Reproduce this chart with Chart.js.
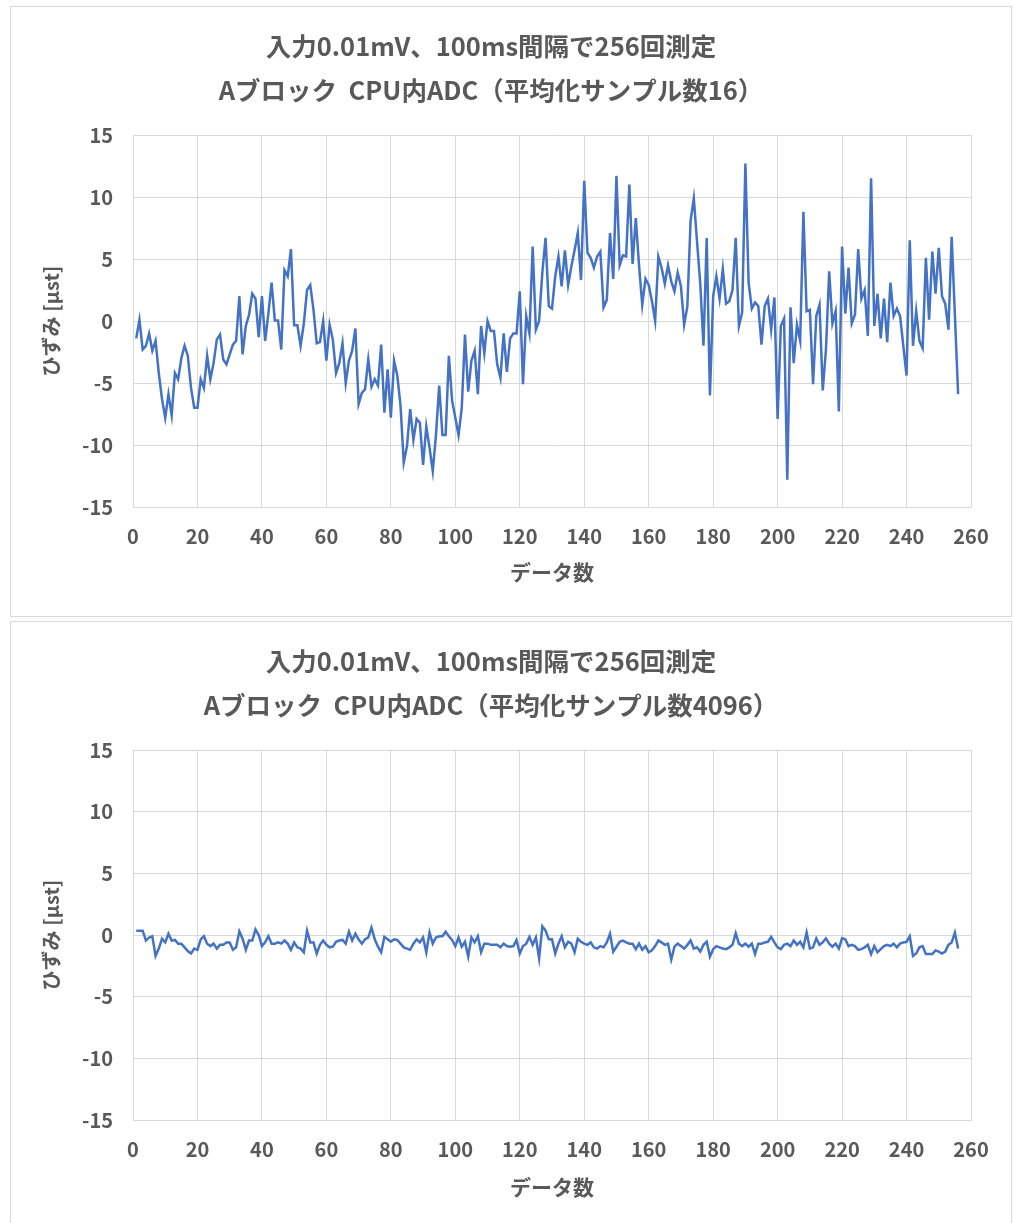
<!DOCTYPE html>
<html>
<head>
<meta charset="utf-8">
<script src="https://cdn.jsdelivr.net/npm/chart.js@4.4.1/dist/chart.umd.min.js"></script>
<style>
  body { margin: 0; background: #fff; }
  .panel { position: absolute; left: 10px; width: 1000px; border: 1px solid #d9d9d9; background: #fff; }
  canvas { position: absolute; left: 0; top: 0; }
</style>
</head>
<body>
<div class="panel" style="top:6px;height:609px;"><canvas id="chart1" width="1000" height="609"></canvas></div>
<div class="panel" style="top:621px;height:610px;"><canvas id="chart2" width="1000" height="602"></canvas></div>
<script>
// ひずみ [μst], 平均化サンプル数16
const strain16 = [
  -1.4, 0.1, -2.3, -2.0, -1.0, -2.4, -1.6, -4.2, -6.3, -7.8,
  -5.9, -7.6, -4.2, -4.7, -3.0, -2.0, -2.8, -5.4, -7.0, -7.0,
  -4.7, -5.4, -2.8, -4.7, -3.4, -1.5, -1.1, -3.1, -3.5, -2.7,
  -1.9, -1.6, 2.0, -2.7, -0.4, 0.5, 2.2, 1.8, -1.3, 2.0,
  -1.6, 0.6, 3.1, 0.05, 0.05, -2.3, 4.1, 3.6, 5.8, -0.35,
  -0.35, -2.0, -0.2, 2.5, 2.9, 0.9, -1.8, -1.7, 0.0, -3.2,
  -0.3, -1.5, -4.2, -3.4, -1.8, -5.0, -3.2, -2.4, -0.6, -6.7,
  -5.8, -5.5, -3.1, -5.3, -4.7, -5.2, -1.9, -7.4, -3.9, -7.8,
  -3.2, -4.4, -6.8, -11.4, -10.1, -7.1, -9.6, -7.9, -8.2, -11.6,
  -8.5, -10.2, -12.1, -9.2, -5.2, -9.2, -9.2, -2.8, -6.4, -7.8,
  -9.2, -7.0, -1.1, -5.7, -3.2, -2.4, -5.9, -0.4, -2.6, 0.0,
  -0.8, -0.8, -3.5, -4.6, -1.0, -4.1, -1.4, -1.0, -1.0, 2.4,
  -5.1, 0.4, -1.0, 6.0, -0.7, 0.0, 3.9, 6.7, 1.2, 1.0,
  3.6, 5.2, 2.8, 5.7, 2.9, 4.4, 5.7, 7.1, 3.3, 11.3,
  5.5, 5.1, 4.3, 5.2, 5.6, 1.1, 1.7, 7.1, 3.4, 11.7,
  4.5, 5.3, 5.2, 11.0, 4.6, 8.3, 4.5, 1.3, 3.4, 2.9,
  1.6, 0.0, 5.2, 4.3, 3.0, 4.5, 3.2, 2.4, 3.9, 2.8,
  -0.3, 1.2, 8.1, 9.9, 6.4, 3.0, -2.0, 6.7, -6.0, 2.0,
  3.6, 1.8, 4.2, 1.4, 1.6, 2.5, 6.7, -0.4, 0.7, 12.7,
  3.1, 1.0, 1.5, 1.2, -1.9, 1.2, 1.8, -0.7, 1.9, -7.9,
  -0.4, 0.2, -12.8, 1.1, -3.4, -0.3, -1.6, 8.8, 0.8, 0.9,
  -5.1, 0.4, 1.3, -5.6, -2.3, 4.0, -0.2, 0.8, -7.3, 6.0,
  0.6, 4.3, -0.2, 0.5, 5.8, 1.8, 2.5, -1.2, 11.5, -0.4,
  2.2, -1.4, 1.8, -1.7, 3.1, 0.4, 1.0, 0.4, -2.0, -4.4,
  6.5, -2.0, 0.8, -1.6, -2.2, 5.1, 0.1, 5.6, 2.2, 5.9,
  2.0, 1.4, -0.7, 6.8, 0.5, -5.9
];

// ひずみ [μst], 平均化サンプル数4096
const strain4096 = [
  0.35, 0.35, 0.35, -0.45, -0.2, -0.1, -1.7, -1.1, -0.3, -0.6,
  0.1, -0.45, -0.4, -0.7, -0.7, -1.0, -1.3, -1.5, -1.1, -1.2,
  -0.35, -0.1, -0.7, -0.9, -0.7, -1.1, -0.8, -0.8, -0.6, -0.6,
  -1.2, -1.0, 0.3, -0.3, -1.2, -0.45, -0.45, 0.45, 0.0, -0.9,
  -0.6, -0.1, -0.7, -0.7, -0.6, -0.7, -0.45, -0.7, -1.2, -0.6,
  -1.0, -1.1, -1.4, 0.35, -0.6, -0.6, -1.5, -0.8, -0.45, -0.8,
  -1.0, -0.95, -0.55, -0.45, -0.4, -0.7, 0.27, -0.45, 0.1, -0.35,
  -0.7, -0.35, -0.2, 0.6, -0.35, -0.95, -1.4, -0.15, -0.35, -0.55,
  -0.35, -0.4, -0.7, -1.0, -1.1, -1.2, -0.7, -0.35, -0.6, -0.2,
  -1.4, 0.2, -0.7, -0.2, -0.1, -0.1, 0.27, -0.1, -0.4, -0.9,
  -0.2, -0.95, -0.55, -1.75, -0.2, -0.6, -0.1, -1.4, -0.7, -0.7,
  -0.8, -0.8, -0.8, -1.0, -0.7, -0.9, -0.95, -0.9, -0.4, -1.5,
  -0.9, -0.7, -0.15, -0.8, -0.2, -1.9, 0.7, 0.35, -0.35, -0.35,
  -1.5, -0.7, -0.1, -1.0, -0.55, -0.7, -1.4, -0.3, -0.55, -0.7,
  -0.8, -0.6, -1.0, -1.1, -0.9, -1.0, -0.6, 0.1, -1.35, -0.95,
  -0.55, -0.45, -0.6, -0.7, -0.7, -1.15, -0.7, -1.2, -0.9, -1.4,
  -1.25, -0.9, -0.45, -0.6, -0.8, -0.7, -2.0, -0.95, -0.7, -0.9,
  -1.1, -0.8, -0.45, -1.1, -1.0, -1.35, -0.8, -0.55, -1.75, -1.15,
  -0.9, -1.0, -1.1, -1.15, -1.0, -0.8, 0.15, -0.7, -0.9, -0.7,
  -0.95, -0.7, -1.55, -0.7, -0.7, -0.6, -0.55, -0.15, -0.6, -1.0,
  -1.15, -0.8, -0.7, -0.9, -0.45, -0.8, -0.55, -1.0, 0.2, -1.1,
  -1.0, -0.27, -0.8, -0.6, -0.27, -0.7, -0.95, -0.7, -1.1, -0.27,
  -0.35, -0.9, -0.8, -0.9, -1.2, -1.15, -1.0, -0.8, -1.55, -0.9,
  -1.4, -1.15, -0.9, -0.8, -0.9, -0.7, -1.0, -0.7, -0.6, -0.55,
  -0.1, -1.7, -1.5, -1.0, -0.9, -1.55, -1.55, -1.55, -1.25, -1.35,
  -1.5, -1.35, -0.8, -0.6, 0.2, -1.1
];

// データ数 1..256
const sampleNo = strain16.map((v, i) => i + 1);

const titles1 = ['入力0.01mV、100ms間隔で256回測定', 'Aブロック  CPU内ADC（平均化サンプル数16）'];
const titles2 = ['入力0.01mV、100ms間隔で256回測定', 'Aブロック  CPU内ADC（平均化サンプル数4096）'];
const xTitle = 'データ数';
const yTitle = 'ひずみ [μst]';

const FONT = '"Noto Sans CJK JP", "Noto Sans", sans-serif';
const GRAY = '#595959';

function makeChart(id, values, titleLines, xAxisHeight, xTitlePad) {
  const ctx = document.getElementById(id).getContext('2d');
  return new Chart(ctx, {
    type: 'line',
    data: {
      datasets: [{
        data: values.map((v, i) => ({ x: sampleNo[i], y: v })),
        borderColor: '#4472C4',
        borderWidth: 2.5,
        pointRadius: 0,
        tension: 0,
        fill: false
      }]
    },
    options: {
      responsive: false,
      animation: false,
      layout: { padding: { left: 0, right: 40, top: 0, bottom: 0 } },
      plugins: {
        legend: { display: false },
        tooltip: { enabled: false },
        title: {
          display: true,
          text: titleLines,
          color: GRAY,
          font: { family: FONT, size: 25.5, weight: 'bold', lineHeight: '44px' },
          padding: { top: 17, bottom: 23 }
        }
      },
      scales: {
        x: {
          type: 'linear',
          min: 0, max: 260,
          afterFit: s => { s.height = xAxisHeight; },
          border: { color: '#d9d9d9' },
          grid: { color: '#d9d9d9', drawTicks: false },
          ticks: { stepSize: 20, padding: 17, color: GRAY, font: { family: FONT, size: 20, weight: 'bold' }, maxRotation: 0 },
          title: { display: true, text: xTitle, color: GRAY, font: { family: FONT, size: 21, weight: 'bold' }, padding: { top: 0, bottom: xTitlePad } }
        },
        y: {
          min: -15, max: 15,
          afterFit: s => { s.width = 122; },
          border: { color: '#d9d9d9' },
          grid: { color: '#d9d9d9', drawTicks: false },
          ticks: { stepSize: 5, padding: 20, color: GRAY, font: { family: FONT, size: 20, weight: 'bold' } },
          title: { display: true, text: yTitle, color: GRAY, font: { family: FONT, size: 20, weight: 'bold' }, padding: { top: 28, bottom: 0 } }
        }
      }
    }
  });
}

makeChart('chart1', strain16, titles1, 109, 31);
makeChart('chart2', strain4096, titles2, 104, 24);
</script>
</body>
</html>
